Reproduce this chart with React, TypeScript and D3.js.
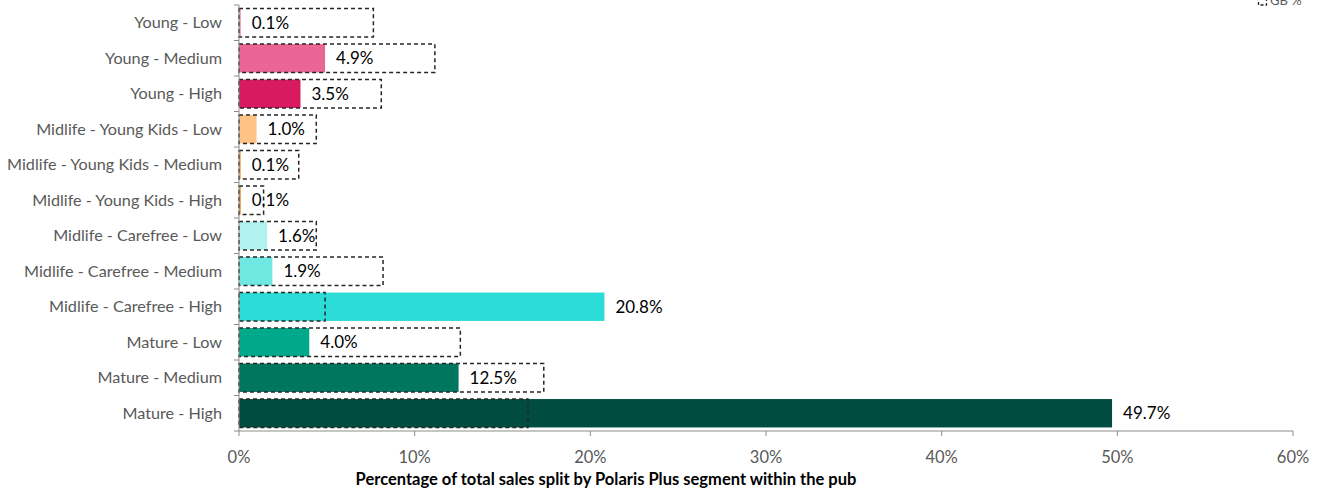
import React from "react";
import * as d3 from "d3";

const categories = [
  "Young - Low",
  "Young - Medium",
  "Young - High",
  "Midlife - Young Kids - Low",
  "Midlife - Young Kids - Medium",
  "Midlife - Young Kids - High",
  "Midlife - Carefree - Low",
  "Midlife - Carefree - Medium",
  "Midlife - Carefree - High",
  "Mature - Low",
  "Mature - Medium",
  "Mature - High",
];
const pubValues = [0.1, 4.9, 3.5, 1.0, 0.1, 0.1, 1.6, 1.9, 20.8, 4.0, 12.5, 49.7];
const gbValues = [7.65, 11.15, 8.1, 4.4, 3.4, 1.4, 4.4, 8.2, 4.9, 12.6, 17.35, 16.45];
const barColors = [
  "#f28bb0", "#eb6594", "#d81b60",
  "#ffc385", "#f5a34a", "#e8902a",
  "#b2f2ee", "#6ee8e0", "#2cdcd6",
  "#00a98a", "#00765f", "#004d40",
];
const xTicks = [0, 10, 20, 30, 40, 50, 60];

const FONT = "Lato, 'Open Sans', sans-serif";

export default function App() {
  const W = 1326, H = 491;
  const left = 239, right = 1293, top = 5, bottom = 431;
  const x = d3.scaleLinear().domain([0, 60]).range([left, right]);
  const y = d3.scaleBand<string>().domain(categories).range([top, bottom]).paddingInner(0.2).paddingOuter(0.1);
  const bw = y.bandwidth();
  const step = (bottom - top) / categories.length;
  return (
    <svg width={W} height={H} style={{ position: "absolute", left: 0, top: 0 }} fontFamily={FONT}>
      {/* legend (clipped at top, as in the reference) */}
      <rect x={1258.5} y={-4} width={8} height={9} fill="none" stroke="#262626" strokeWidth={1.3} strokeDasharray="3,2" />
      <text x={1270} y={5} fontSize={13} fill="#595959">GB %</text>
      {/* bars */}
      {categories.map((c, i) => (
        <rect key={"b" + i} x={x(0)} y={y(c)!} width={x(pubValues[i]) - x(0)} height={bw} fill={barColors[i]} />
      ))}
      {/* GB dashed boxes */}
      {categories.map((c, i) => (
        <rect key={"g" + i} x={x(0)} y={y(c)!} width={x(gbValues[i]) - x(0)} height={bw} fill="none" stroke="#262626" strokeWidth={1.5} strokeDasharray="4,3" />
      ))}
      {/* data labels */}
      {categories.map((c, i) => (
        <text key={"l" + i} x={x(pubValues[i]) + 11} y={y(c)! + bw / 2} dy="0.35em" fontSize={17} fill="#000">
          {pubValues[i].toFixed(1) + "%"}
        </text>
      ))}
      {/* y axis */}
      <line x1={left} x2={left} y1={top} y2={bottom} stroke="#8c8c8c" strokeWidth={1} />
      {d3.range(categories.length + 1).map((k) => (
        <line key={"yt" + k} x1={left - 5} x2={left} y1={top + k * step} y2={top + k * step} stroke="#8c8c8c" />
      ))}
      {categories.map((c, i) => (
        <text key={"c" + i} x={left - 17} y={y(c)! + bw / 2} dy="0.35em" textAnchor="end" fontSize={16.2} fill="#595959">
          {c}
        </text>
      ))}
      {/* x axis */}
      <line x1={left} x2={right} y1={bottom} y2={bottom} stroke="#8c8c8c" />
      {xTicks.map((t) => (
        <g key={"xt" + t}>
          <line x1={x(t)} x2={x(t)} y1={bottom} y2={bottom + 5} stroke="#8c8c8c" />
          <text x={x(t)} y={457} dy="0.35em" textAnchor="middle" fontSize={16.5} fill="#595959">{t + "%"}</text>
        </g>
      ))}
      <text x={606} y={479} dy="0.35em" textAnchor="middle" fontSize={16.5} fontWeight="bold" fill="#000">
        Percentage of total sales split by Polaris Plus segment within the pub
      </text>
    </svg>
  );
}
